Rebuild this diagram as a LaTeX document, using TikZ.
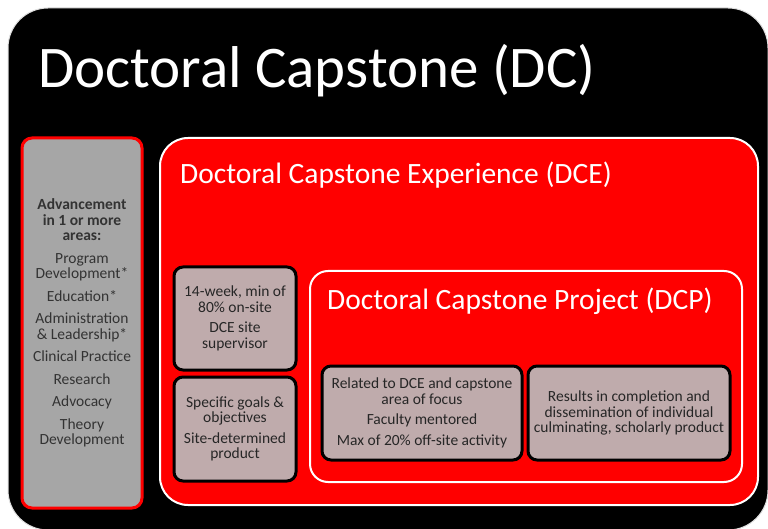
\documentclass[tikz,border=0pt]{standalone}
\usepackage{fontspec}
\setmainfont{Carlito}
\definecolor{dcred}{RGB}{255,0,0}
\definecolor{areagray}{RGB}{166,166,166}
\definecolor{notegray}{RGB}{191,171,172}

\begin{document}
\begin{tikzpicture}[x=1pt,y=-1pt,
  frame box/.style={fill=black,draw=black!12,line width=1pt,rounded corners=40pt,inner sep=0pt},
  area box/.style={fill=areagray,draw=dcred,line width=3pt,rounded corners=10pt,inner sep=1pt,
    align=center,text=black!80,font=\fontsize{15.5}{15.5}\selectfont},
  red box/.style={fill=dcred,draw=white,line width=2pt,rounded corners=28pt,inner sep=0pt},
  note box/.style={fill=notegray,draw=black,line width=3pt,rounded corners=9pt,inner sep=1pt,
    align=center,text=black!85,font=\fontsize{15.5}{15.5}\selectfont},
  title/.style={anchor=base west,text=white,inner sep=0pt}]

  \useasboundingbox (0,0) rectangle (768,529);
  \node[frame box,minimum width=760pt,minimum height=522pt] (dc) at (388,269) {};
  \node[title,font=\fontsize{59}{70}\selectfont] (dctitle) at (38,88) {Doctoral Capstone (DC)};

  \node[area box,minimum width=120pt,minimum height=370pt] (areas) at (82,323)
    {\textbf{Advancement}\\\textbf{in 1 or more}\\\textbf{areas:}\\[7pt]
     Program\\Development*\\[7pt]Education*\\[7pt]Administration\\\& Leadership*\\[7pt]
     Clinical Practice\\[7pt]Research\\[7pt]Advocacy\\[7pt]Theory\\Development};

  \node[red box,minimum width=598pt,minimum height=367pt] (dce) at (459,321.5) {};
  \node[title,font=\fontsize{29.5}{34}\selectfont] (dcetitle) at (180,184) {Doctoral Capstone Experience (DCE)};

  \node[note box,minimum width=122pt,minimum height=103pt] (weeks) at (235,318.5)
    {14-week, min of\\80\% on-site\\[5pt]DCE site\\supervisor};
  \node[note box,minimum width=122pt,minimum height=104pt] (goals) at (235,429)
    {Specific goals \&\\objectives\\[5pt]Site-determined\\product};

  \node[red box,rounded corners=18pt,minimum width=432pt,minimum height=211pt] (dcp) at (526,376.5) {};
  \node[title,font=\fontsize{29.5}{34}\selectfont] (dcptitle) at (327,309) {Doctoral Capstone Project (DCP)};

  \node[note box,minimum width=200pt,minimum height=94pt] (focus) at (422,413)
    {Related to DCE and capstone\\area of focus\\[5pt]Faculty mentored\\[5pt]Max of 20\% off-site activity};
  \node[note box,minimum width=202pt,minimum height=94pt] (product) at (629,413)
    {Results in completion and\\dissemination of individual\\culminating, scholarly product};
\end{tikzpicture}
\end{document}
